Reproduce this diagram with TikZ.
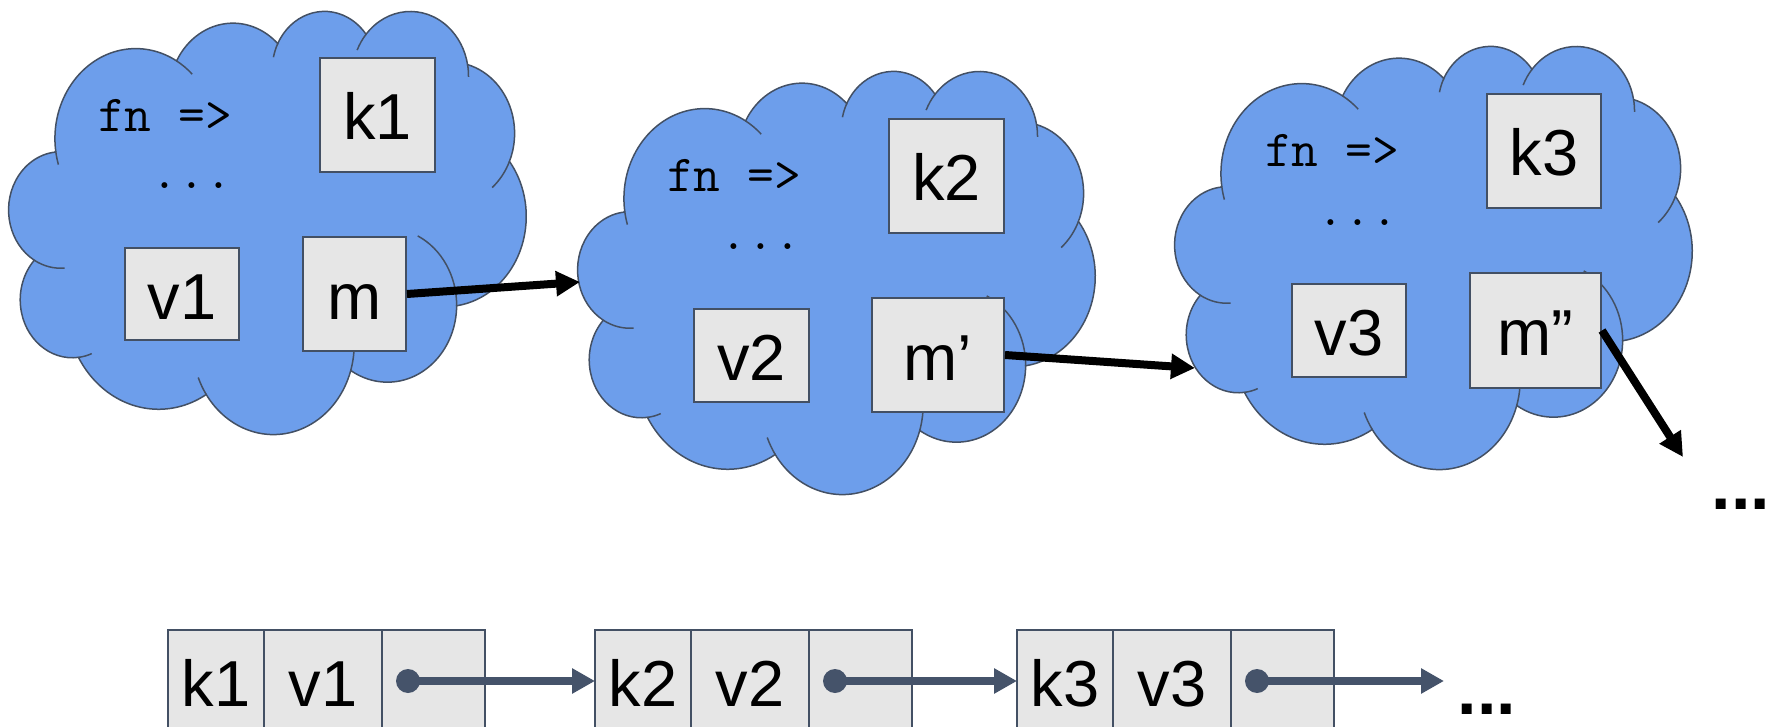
\documentclass[tikz,border=0pt]{standalone}
\usepackage{fontspec}
\setmainfont{Liberation Sans}
\usetikzlibrary{arrows.meta,positioning}

\definecolor{cloudblue}{HTML}{6D9EEB}
\definecolor{boxgray}{HTML}{E6E6E6}
\definecolor{edgeslate}{HTML}{435064}
\definecolor{ptrslate}{HTML}{45536A}

\begin{document}
\begin{tikzpicture}[x=1pt, y=-1pt,
    cloudline/.style={draw=edgeslate, line width=1.5pt},
    keybox/.style={draw=edgeslate, fill=boxgray, line width=2pt, inner sep=0pt,
      minimum height=114pt, text height=50pt, text depth=0pt,
      font={\fontsize{65}{70}\selectfont}},
    cellbox/.style={draw=edgeslate, fill=boxgray, line width=1.8pt, inner sep=0pt,
      outer sep=0pt, minimum height=102pt, text height=50pt, text depth=0pt,
      font={\fontsize{65}{70}\selectfont}},
    fncode/.style={anchor=base, inner sep=0pt, font={\ttfamily\fontsize{52}{54}\selectfont}},
    moredots/.style={anchor=base, inner sep=0pt, font={\bfseries\fontsize{70}{72}\selectfont}},
    link/.style={-{Triangle[length=24pt,width=24pt]}, line width=8pt},
    ptr/.style={-{Triangle[length=23pt,width=24pt]}, line width=8pt, draw=ptrslate},
    ptrdot/.style={circle, fill=ptrslate, inner sep=0pt, minimum size=24pt},
    gcloud/.pic={
      \begin{scope}[x=1.1968pt, y=-0.9792pt]
      % outline, 432 x 432 units
      \path[cloudline, fill=cloudblue] (39.00,143.70)
        arc[start angle=172.25, end angle=300.36, x radius=67.53, y radius=91.90]
        arc[start angle=-152.02, end angle=-45.44, x radius=53.33, y radius=72.67]
        arc[start angle=-153.48, end angle=-37.32, x radius=43.65, y radius=59.45]
        arc[start angle=-139.72, end angle=-10.22, x radius=48.57, y radius=65.95]
        arc[start angle=-74.77, end angle=23.22, x radius=53.33, y radius=72.73]
        arc[start angle=-37.53, end angle=81.87, x radius=67.75, y radius=92.20]
        arc[start angle=0.46, end angle=121.98, x radius=57.85, y radius=78.67]
        arc[start angle=16.85, end angle=146.22, x radius=67.52, y radius=92.15]
        arc[start angle=58.98, end angle=150.18, x radius=77.20, y radius=105.43]
        arc[start angle=83.31, end angle=223.11, x radius=43.60, y radius=59.18]
        arc[start angle=120.35, end angle=264.11, x radius=43.45, y radius=59.45]
        -- cycle;
      % inner strokes
      \foreach \cx/\cy/\rx/\ry/\ta/\tb in {
          43.09/204.24/43.45/59.45/85.54/120.35,
          52.96/295.98/43.60/59.18/68.23/83.31,
          220.92/341.45/67.52/92.15/146.22/158.45,
          220.92/341.45/67.52/92.15/4.73/16.85,
          316.18/301.42/57.85/78.67/-64.02/0.46,
          369.17/125.93/53.33/72.73/23.22/49.65,
          335.38/67.45/48.57/65.95/-10.22/0.83,
          335.38/67.45/48.57/65.95/-156.30/-139.72,
          263.62/60.85/43.65/59.45/-167.72/-153.48,
          105.91/131.30/67.53/91.90/-59.64/-45.73,
          105.91/131.30/67.53/91.90/163.19/172.25}
        \draw[cloudline] (\cx,\cy) ++(\ta:{\rx} and {\ry})
          arc[start angle=\ta, end angle=\tb, x radius=\rx, y radius=\ry];
      \end{scope}
    }]
  \path[use as bounding box, clip] (0,0) rectangle (1785,727);

  % the clouds
  \pic (c1) at (9,10) {gcloud};
  \pic (c2) at (578,70) {gcloud};
  \pic (c3) at (1175,45) {gcloud};

  \node[fncode] (fn1) at (165,132) {fn =>};
  \node[fncode] (dd1) at (192,189) {...};
  \node[keybox, minimum width=115pt] (k1) at (377.5,115) {k1};
  \node[keybox, minimum width=114pt, minimum height=92pt] (v1) at (182,294) {v1};
  \node[keybox, minimum width=103pt] (m1) at (354.5,294) {m};

  \node[fncode] (fn2) at (734,192) {fn =>};
  \node[fncode] (dd2) at (761,250) {...};
  \node[keybox, minimum width=115pt] (k2) at (946.5,176) {k2};
  \node[keybox, minimum width=115pt, minimum height=93pt] (v2) at (751.5,355.5) {v2};
  \node[keybox, minimum width=132pt] (m2) at (938,355) {m’};

  \node[fncode] (fn3) at (1332,167) {fn =>};
  \node[fncode] (dd3) at (1358,226) {...};
  \node[keybox, minimum width=114pt] (k3) at (1544,151) {k3};
  \node[keybox, minimum width=114pt, minimum height=93pt] (v3) at (1349,330.5) {v3};
  \node[keybox, minimum width=131pt] (m3) at (1535.5,330.5) {m”};

  \coordinate (in2) at (580,282);
  \coordinate (in3) at (1195,368);
  \coordinate (out3) at (1683,457);
  \draw[link] (m1.east) -- (in2);
  \draw[link] (m2.east) -- (in3);
  \draw[link] (m3.east) -- (out3);
  \node[moredots] (tmore) at (1741,509) {...};

  % the list
  \node[cellbox, minimum width=96pt] (bk1) at (216,681) {k1};
  \node[cellbox, minimum width=118pt, right=0pt of bk1] (bv1) {v1};
  \node[cellbox, minimum width=103pt, right=0pt of bv1] (bp1) {};
  \node[ptrdot] (bd1) at ([xshift=26pt]bp1.west) {};

  \node[cellbox, minimum width=96pt, right=110pt of bp1] (bk2) {k2};
  \node[cellbox, minimum width=118pt, right=0pt of bk2] (bv2) {v2};
  \node[cellbox, minimum width=103pt, right=0pt of bv2] (bp2) {};
  \node[ptrdot] (bd2) at ([xshift=26pt]bp2.west) {};

  \node[cellbox, minimum width=96pt, right=105pt of bp2] (bk3) {k3};
  \node[cellbox, minimum width=118pt, right=0pt of bk3] (bv3) {v3};
  \node[cellbox, minimum width=103pt, right=0pt of bv3] (bp3) {};
  \node[ptrdot] (bd3) at ([xshift=26pt]bp3.west) {};
  \coordinate (bend) at ([xshift=110pt]bp3.east);

  \draw[ptr] (bd1.center) -- (bk2.west);
  \draw[ptr] (bd2.center) -- (bk3.west);
  \draw[ptr] (bd3.center) -- (bend);
  \node[moredots] (bmore) at (1487,714) {...};
\end{tikzpicture}
\end{document}
